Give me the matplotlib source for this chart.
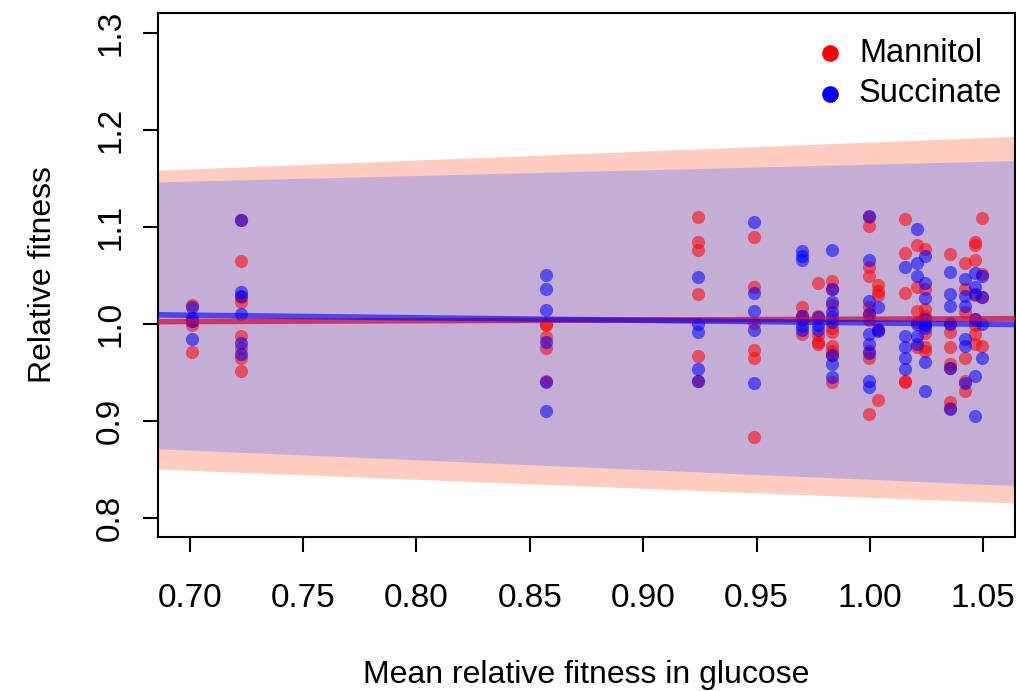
import matplotlib
matplotlib.use("Agg")
import matplotlib.pyplot as plt
import numpy as np

plt.rcParams['font.family'] = ['Liberation Sans', 'DejaVu Sans']

# mean relative fitness in glucose for each genotype (x columns)
glucose = [0.701, 0.7224, 0.857, 0.9243, 0.9489, 0.970, 0.977, 0.9832,
           0.9995, 1.0035, 1.0153, 1.021, 1.0245, 1.0355, 1.042, 1.0465, 1.0496]

# relative fitness in mannitol, one list per glucose column
mannitol = [
    [1.019, 1.003, 0.999, 0.971],
    [1.107, 1.065, 1.027, 1.022, 0.987, 0.975, 0.965, 0.951],
    [1.000, 0.998, 0.986, 0.975, 0.941],
    [1.110, 1.084, 1.076, 1.030, 0.967, 0.941],
    [1.089, 1.038, 1.001, 0.973, 0.964, 0.883],
    [1.017, 1.008, 1.004, 0.989],
    [1.042, 1.008, 0.988, 0.981, 0.979],
    [1.044, 1.036, 1.019, 0.995, 0.991, 0.977, 0.972, 0.968, 0.940],
    [1.110, 1.101, 1.058, 1.049, 1.017, 1.010, 1.004, 0.972, 0.964, 0.907],
    [1.040, 1.034, 1.029, 0.994, 0.921],
    [1.108, 1.073, 1.031, 0.941, 0.940],
    [1.081, 1.038, 1.013, 1.002, 0.976],
    [1.077, 1.036, 1.015, 1.008, 0.990, 0.976, 0.972],
    [1.072, 1.001, 0.991, 0.976, 0.958, 0.954, 0.919, 0.913],
    [1.062, 1.036, 1.012, 0.964, 0.941, 0.930],
    [1.084, 1.081, 1.066, 1.029, 1.005, 0.998, 0.989, 0.979],
    [1.109, 1.051, 1.027, 0.977],
]

# relative fitness in succinate, one list per glucose column
succinate = [
    [1.017, 1.006, 1.003, 0.984],
    [1.107, 1.033, 1.028, 1.010, 0.980, 0.969],
    [1.050, 1.036, 1.014, 0.981, 0.940, 0.910],
    [1.048, 1.000, 0.991, 0.953, 0.941],
    [1.105, 1.032, 1.013, 0.993, 0.939],
    [1.075, 1.070, 1.066, 1.008, 0.997, 0.993],
    [1.007, 0.998, 0.993],
    [1.076, 1.036, 1.022, 1.012, 1.007, 1.002, 0.968, 0.958, 0.945],
    [1.111, 1.066, 1.023, 1.010, 0.989, 0.979, 0.970, 0.941, 0.935],
    [1.017, 0.992, 0.993],
    [1.058, 0.987, 0.976, 0.964, 0.953],
    [1.097, 1.062, 1.049, 1.000, 0.987, 0.979],
    [1.070, 1.042, 1.026, 1.005, 1.000, 0.998, 0.995, 0.960, 0.930],
    [1.053, 1.030, 1.018, 1.000, 0.954, 0.912],
    [1.046, 1.028, 1.018, 0.984, 0.977, 0.939],
    [1.052, 1.038, 1.030, 1.005, 0.946, 0.905],
    [1.049, 1.027, 1.000, 0.965],
]

# fitted lines and prediction bands, at the left and right plot edges
edge_x = [0.686, 1.064]
mannitol_fit = [1.002, 1.005]
mannitol_lo = [0.850, 0.815]
mannitol_hi = [1.158, 1.193]
succinate_fit = [1.009, 0.999]
succinate_lo = [0.871, 0.833]
succinate_hi = [1.146, 1.168]


def flatten(xs, groups):
    px, py = [], []
    for x, ys in zip(xs, groups):
        px += [x] * len(ys)
        py += ys
    return px, py


fig = plt.figure(figsize=(10.16, 6.91), dpi=100)
ax = fig.add_axes([0.1555, 0.2229, 0.8435, 0.7581])

ax.fill_between(edge_x, mannitol_lo, mannitol_hi, color="#FFCCBF", lw=0)
ax.fill_between(edge_x, succinate_lo, succinate_hi, color="#C4AED6", lw=0)

mx, my = flatten(glucose, mannitol)
sx, sy = flatten(glucose, succinate)
ax.scatter(mx, my, s=90, color="red", alpha=0.55, lw=0, zorder=3)
ax.scatter(sx, sy, s=90, color="blue", alpha=0.55, lw=0, zorder=3)

ax.plot(edge_x, mannitol_fit, color="#D0103A", alpha=0.75, lw=4, zorder=4)
ax.plot(edge_x, succinate_fit, color="blue", alpha=0.6, lw=4, zorder=4)

ax.set_xlim(0.686, 1.064)
ax.set_ylim(0.78, 1.32)
ax.set_xticks(np.arange(0.70, 1.051, 0.05))
ax.set_xticklabels(["%.2f" % v for v in np.arange(0.70, 1.051, 0.05)])
ax.set_yticks(np.arange(0.8, 1.31, 0.1))
ax.set_yticklabels(["%.1f" % v for v in np.arange(0.8, 1.31, 0.1)],
                   rotation=90, va="center")
ax.tick_params(axis="both", labelsize=24, length=11, width=1.5, direction="out")
ax.tick_params(axis="x", pad=22)
ax.tick_params(axis="y", pad=12)
for sp in ax.spines.values():
    sp.set_linewidth(1.5)

ax.set_xlabel("Mean relative fitness in glucose", fontsize=23, labelpad=33)
ax.set_ylabel("Relative fitness", fontsize=23, labelpad=27)

ax.scatter([], [], s=120, color="red", label="Mannitol")
ax.scatter([], [], s=120, color="blue", label="Succinate")
ax.legend(loc="upper right", bbox_to_anchor=(1.008, 0.9905), frameon=False,
          fontsize=23.5, handletextpad=0.3, borderaxespad=0.2,
          labelspacing=0.3, scatterpoints=1, handlelength=1.2)

fig.savefig("out.png", dpi=100)
